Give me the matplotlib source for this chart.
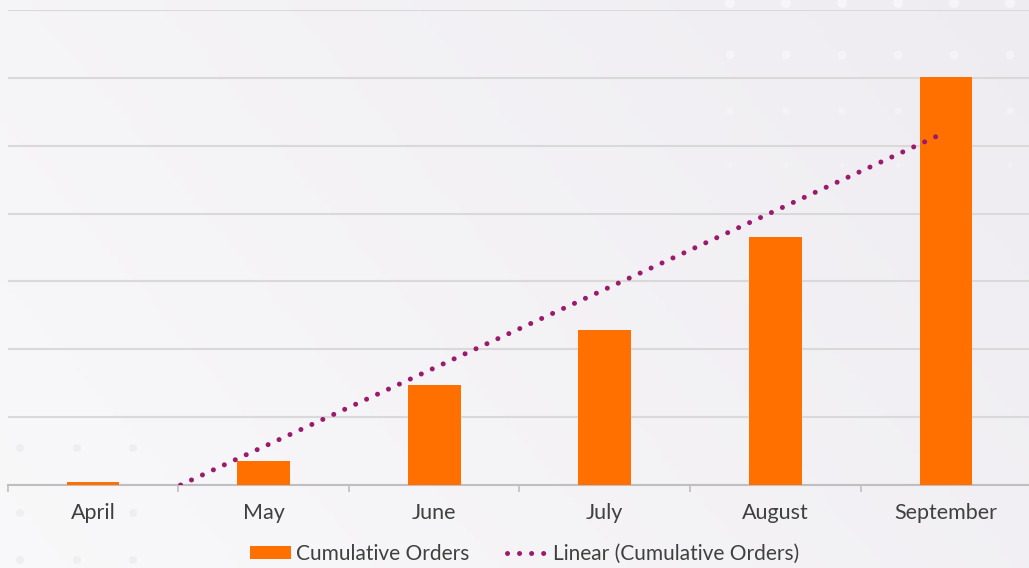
import numpy as np
import matplotlib.pyplot as plt
from matplotlib.patches import Patch, Circle
from matplotlib.lines import Line2D

months = ["April", "May", "June", "July", "August", "September"]
cumulative_orders = [0.04, 0.36, 1.47, 2.28, 3.65, 6.02]

BAR_COLOR = "#FF7000"
TREND_COLOR = "#9C1A6C"
TEXT_COLOR = "#404040"

plt.rcParams["font.family"] = ["Lato", "DejaVu Sans"]

W, H = 1029, 568
fig = plt.figure(figsize=(W / 100, H / 100), dpi=100)

# soft background gradient with faint bokeh dots (pixel coordinates)
bg = fig.add_axes([0, 0, 1, 1], zorder=-10)
gx = np.linspace(0, 1, 256)
gy = np.linspace(0, 1, 64)
gxx, gyy = np.meshgrid(gx, gy)
shade = 0.55 * gxx + 0.25 * gyy
c0 = np.array([0.975, 0.972, 0.978])
c1 = np.array([0.925, 0.915, 0.935])
img = c0[None, None, :] * (1 - shade[..., None]) + c1[None, None, :] * shade[..., None]
bg.imshow(img, extent=[0, W, 0, H], aspect="auto", origin="lower")
for row, yy in enumerate([565, 513, 457, 403]):
    for col in range(6):
        xx = 1010 - col * 56
        bg.add_patch(Circle((xx, yy), 5 - 0.7 * row, color="white",
                            alpha=0.45 - 0.08 * row, lw=0))
for yy in [120, 55, 8]:
    for xx in [20, 77, 133]:
        bg.add_patch(Circle((xx, yy), 4, color="#dcdae0", alpha=0.3, lw=0))
bg.set_xlim(0, W)
bg.set_ylim(0, H)
bg.axis("off")

ax = fig.add_axes([7.7 / W, 83 / H, 1023.6 / W, 475 / H])
ax.patch.set_alpha(0)

x = np.arange(len(months))
ax.bar(x, cumulative_orders, width=0.31, color=BAR_COLOR, zorder=3)

# linear trendline of the cumulative orders
coef = np.polyfit(x, cumulative_orders, 1)
trend = np.polyval(coef, x)
ax.plot(x, trend, color=TREND_COLOR, lw=3.6, linestyle=(0, (0.01, 2.4)),
        dash_capstyle="round", zorder=4)

ax.set_xlim(-0.5, len(months) - 0.5)
ax.set_ylim(0, 7)
ax.set_yticks(np.arange(0, 8, 1))
ax.yaxis.grid(True, color="#D9D9D9", lw=1.5)
ax.set_axisbelow(True)
ax.tick_params(axis="y", left=False, labelleft=False)

ax.set_xticks(x)
ax.set_xticklabels(months, fontsize=15.5, color=TEXT_COLOR)
ax.set_xticks(np.arange(-0.5, len(months), 1), minor=True)
ax.tick_params(axis="x", which="major", length=0, pad=13)
ax.tick_params(axis="x", which="minor", length=5, width=1.2, color="#BFBFBF", direction="out")

for s in ["top", "right", "left"]:
    ax.spines[s].set_visible(False)
ax.spines["bottom"].set_color("#BFBFBF")
ax.spines["bottom"].set_linewidth(1.5)

handles = [
    Patch(facecolor=BAR_COLOR, edgecolor="none", label="Cumulative Orders"),
    Line2D([0], [0], color=TREND_COLOR, lw=3.6, linestyle=(0, (0.01, 2.4)),
           dash_capstyle="round", label="Linear (Cumulative Orders)"),
]
fig.legend(handles=handles, loc="center", bbox_to_anchor=(0.51, 0.025), ncol=2,
           frameon=False, fontsize=15, labelcolor=TEXT_COLOR,
           handlelength=1.95, handleheight=0.6, handletextpad=0.25, columnspacing=1.8)

fig.savefig("out.png", dpi=100)
